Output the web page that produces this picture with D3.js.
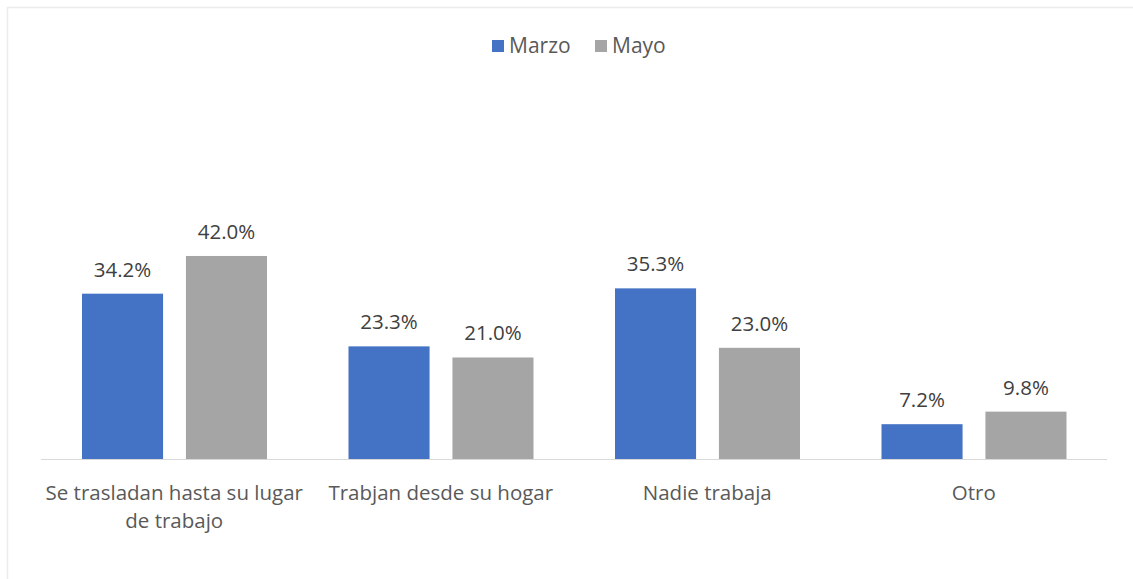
<!DOCTYPE html>
<html lang="es">
<head>
<meta charset="UTF-8">
<title>Marzo vs Mayo</title>
<script src="https://cdnjs.cloudflare.com/ajax/libs/d3/7.8.5/d3.min.js"></script>
<style>
  body { margin: 0; background: #fff; }
  svg text { font-family: "Open Sans", "Noto Sans", sans-serif; fill: #404040; }
</style>
</head>
<body>
<div id="chart"></div>
<script>
    // data
    var categories = [["Se trasladan hasta su lugar", "de trabajo"], ["Trabjan desde su hogar"], ["Nadie trabaja"], ["Otro"]];
    var series = ["Marzo", "Mayo"];
    var marzo = [34.2, 23.3, 35.3, 7.2];
    var mayo = [42.0, 21.0, 23.0, 9.8];
    var colors = ["#4472c4", "#a5a5a5"];

    var width = 1133, height = 579;

    var svg = d3.select("#chart").append("svg")
        .attr("width", width)
        .attr("height", height);

    // faint frame
    svg.append("path")
        .attr("d", "M7.5," + height + "V7.5H" + width)
        .attr("fill", "none")
        .attr("stroke", "#ececec")
        .attr("stroke-width", 1.5);

    var idx = d3.range(categories.length);
    var x0 = d3.scaleBand().domain(idx).range([41, 1107]).padding(0);
    var x1 = d3.scaleBand().domain(series).range([41, 226]).paddingInner(0.22);
    var y = d3.scaleLinear().domain([0, 50]).range([459, 217.3]);

    var rows = idx.map(function(i) { return [marzo[i], mayo[i]]; });

    var g = svg.selectAll("g.cat")
        .data(rows)
        .enter().append("g")
        .attr("class", "cat")
        .attr("transform", function(d, i) { return "translate(" + x0(i) + ",0)"; });

    g.selectAll("rect")
        .data(function(d) { return d; })
        .enter().append("rect")
        .attr("x", function(d, j) { return x1(series[j]); })
        .attr("width", x1.bandwidth())
        .attr("y", function(d) { return y(d); })
        .attr("height", function(d) { return y(0) - y(d); })
        .attr("fill", function(d, j) { return colors[j]; });

    g.selectAll("text.val")
        .data(function(d) { return d; })
        .enter().append("text")
        .attr("class", "val")
        .attr("x", function(d, j) { return x1(series[j]) + x1.bandwidth() / 2; })
        .attr("y", function(d) { return y(d) - 17; })
        .attr("text-anchor", "middle")
        .style("font-size", "20.5px")
        .text(function(d) { return d.toFixed(1) + "%"; });

    // baseline
    svg.append("line")
        .attr("x1", 41).attr("x2", 1107)
        .attr("y1", y(0) + 0.5).attr("y2", y(0) + 0.5)
        .attr("stroke", "#d9d9d9");

    // category labels
    var lab = svg.selectAll("text.cat")
        .data(categories)
        .enter().append("text")
        .attr("class", "cat")
        .attr("text-anchor", "middle")
        .attr("transform", function(d, i) { return "translate(" + (x0(i) + x0.bandwidth() / 2) + ",500)"; })
        .style("font-size", "20.5px")
        .style("fill", "#595959");
    lab.selectAll("tspan")
        .data(function(d) { return d; })
        .enter().append("tspan")
        .attr("x", 0)
        .attr("dy", function(d, k) { return k ? 28 : 0; })
        .text(function(d) { return d; });

    // legend
    var leg = svg.selectAll("g.leg")
        .data(series)
        .enter().append("g")
        .attr("class", "leg")
        .attr("transform", function(d, i) { return "translate(" + (492 + i * 103) + ",40)"; });
    leg.append("rect")
        .attr("width", 12).attr("height", 12)
        .attr("fill", function(d, i) { return colors[i]; });
    leg.append("text")
        .attr("x", 17).attr("y", 13)
        .style("font-size", "21px")
        .style("fill", "#595959")
        .text(function(d) { return d; });
</script>
</body>
</html>
